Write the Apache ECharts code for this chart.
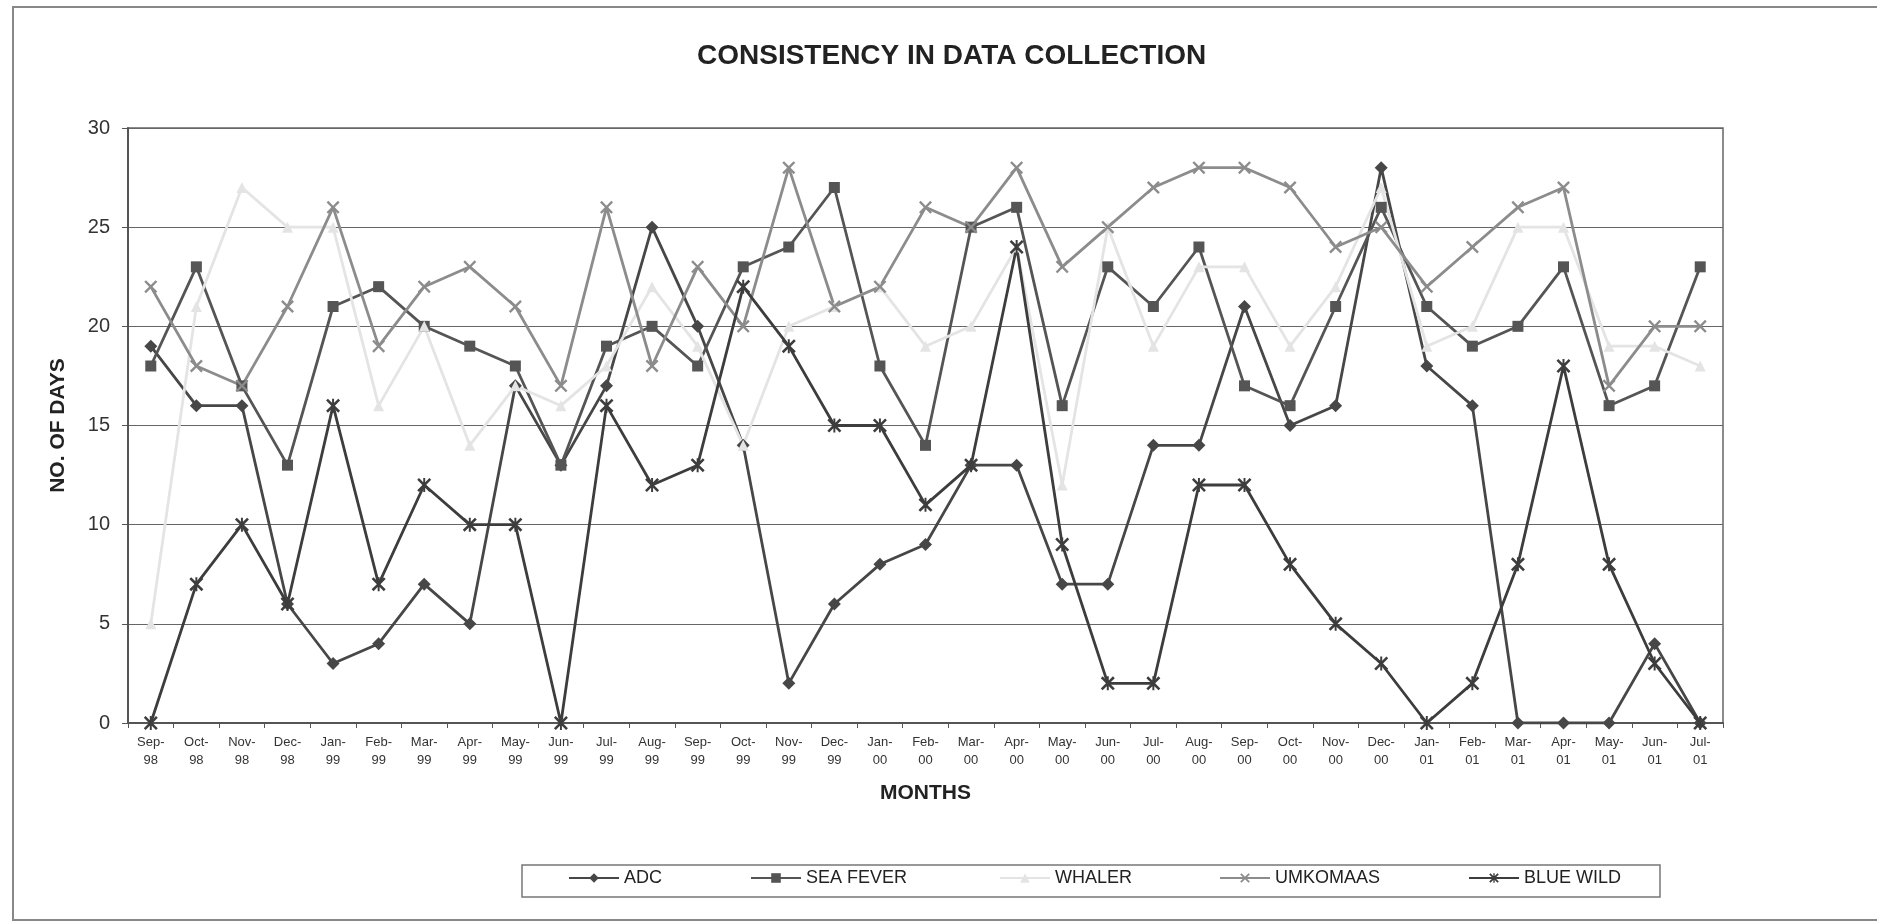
<!DOCTYPE html>
<html>
<head>
<meta charset="utf-8">
<script src="https://cdn.jsdelivr.net/npm/echarts@6/dist/echarts.min.js"></script>
<style>
html,body{margin:0;padding:0;background:#fff;}
#chart{width:1877px;height:922px;}
</style>
</head>
<body>
<div id="chart"></div>
<script>
const months = ['Sep-\n98','Oct-\n98','Nov-\n98','Dec-\n98','Jan-\n99','Feb-\n99','Mar-\n99','Apr-\n99','May-\n99','Jun-\n99','Jul-\n99','Aug-\n99','Sep-\n99','Oct-\n99','Nov-\n99','Dec-\n99','Jan-\n00','Feb-\n00','Mar-\n00','Apr-\n00','May-\n00','Jun-\n00','Jul-\n00','Aug-\n00','Sep-\n00','Oct-\n00','Nov-\n00','Dec-\n00','Jan-\n01','Feb-\n01','Mar-\n01','Apr-\n01','May-\n01','Jun-\n01','Jul-\n01'];
const adc      = [19,16,16,6,3,4,7,5,17,13,17,25,20,14,2,6,8,9,13,13,7,7,14,14,21,15,16,28,18,16,0,0,0,4,0];
const seaFever = [18,23,17,13,21,22,20,19,18,13,19,20,18,23,24,27,18,14,25,26,16,23,21,24,17,16,21,26,21,19,20,23,16,17,23];
const whaler   = [5,21,27,25,25,16,20,14,17,16,18,22,19,14,20,21,22,19,20,24,12,25,19,23,23,19,22,27,19,20,25,25,19,19,18];
const umkomaas = [22,18,17,21,26,19,22,23,21,17,26,18,23,20,28,21,22,26,25,28,23,25,27,28,28,27,24,25,22,24,26,27,17,20,20];
const blueWild = [0,7,10,6,16,7,12,10,10,0,16,12,13,22,19,15,15,11,13,24,9,2,2,12,12,8,5,3,0,2,8,18,8,3,0];
const yTicks = [0,5,10,15,20,25,30];

const xMark = 'path://M0,1.3 L1.3,0 L5,3.7 L8.7,0 L10,1.3 L6.3,5 L10,8.7 L8.7,10 L5,6.3 L1.3,10 L0,8.7 L3.7,5 Z';
const starMark = 'path://M0,1.3 L1.3,0 L5,3.7 L8.7,0 L10,1.3 L6.3,5 L10,8.7 L8.7,10 L5,6.3 L1.3,10 L0,8.7 L3.7,5 Z M4.3,0 L5.7,0 L5.7,10 L4.3,10 Z';

function mk(name, data, color, symbol, size) {
  return {
    name: name, type: 'line', data: data,
    symbol: symbol, symbolSize: size, showSymbol: true,
    lineStyle: {color: color, width: 2.8},
    itemStyle: {color: color, borderColor: color, borderWidth: 0},
    emphasis: {disabled: true},
    animation: false
  };
}

const chart = echarts.init(document.getElementById('chart'), null, {renderer: 'canvas'});
const font = 'Liberation Sans, Arial, sans-serif';
const legendLefts = [568, 750, 999, 1219, 1468];
const names = ['ADC','SEA FEVER','WHALER','UMKOMAAS','BLUE WILD'];
chart.setOption({
  backgroundColor: '#fff',
  animation: false,
  title: {
    text: 'CONSISTENCY IN DATA COLLECTION',
    left: 692, top: 37,
    textStyle: {fontFamily: font, fontSize: 28, fontWeight: 'bold', color: '#222'}
  },
  graphic: [
    {type: 'rect', shape: {x: 13, y: 7, width: 1870, height: 913}, style: {fill: 'none', stroke: '#888', lineWidth: 2}, silent: true},
    {type: 'rect', shape: {x: 522, y: 865, width: 1138, height: 32}, style: {fill: 'none', stroke: '#777', lineWidth: 1.5}, silent: true}
  ],
  legend: names.map((n, i) => ({
    data: [n], left: legendLefts[i], top: 869, padding: 0,
    itemWidth: 50, itemHeight: 12, itemGap: 0,
    textStyle: {fontFamily: font, fontSize: 18, color: '#222'},
    selectedMode: false
  })),
  grid: {left: 128, right: 154, top: 128, bottom: 199, show: true, borderColor: '#666', borderWidth: 1.5},
  xAxis: {
    type: 'category', data: months, boundaryGap: true,
    name: 'MONTHS', nameLocation: 'middle', nameGap: 60,
    nameTextStyle: {fontFamily: font, fontSize: 21, fontWeight: 'bold', color: '#222'},
    axisLine: {lineStyle: {color: '#555', width: 2}},
    axisTick: {show: true, alignWithLabel: false, length: 5, lineStyle: {color: '#555'}},
    axisLabel: {interval: 0, fontFamily: font, fontSize: 13, color: '#333', lineHeight: 18, margin: 10},
    splitLine: {show: false}
  },
  yAxis: {
    type: 'value', min: 0, max: 30, interval: 5,
    name: 'NO. OF DAYS', nameLocation: 'middle', nameGap: 59, nameRotate: 90,
    nameTextStyle: {fontFamily: font, fontSize: 21, fontWeight: 'bold', color: '#222'},
    axisLine: {show: true, lineStyle: {color: '#555', width: 2}},
    axisTick: {show: true, length: 6, lineStyle: {color: '#555'}},
    axisLabel: {fontFamily: font, fontSize: 20, color: '#333', margin: 18,
      formatter: v => yTicks.includes(v) ? String(v) : ''},
    splitLine: {show: true, lineStyle: {color: '#666', width: 1.2}}
  },
  series: [
    mk('ADC', adc, '#474747', 'diamond', 13),
    mk('SEA FEVER', seaFever, '#555555', 'rect', 11),
    mk('WHALER', whaler, '#e4e4e4', 'triangle', 11),
    mk('UMKOMAAS', umkomaas, '#8c8c8c', xMark, 13),
    mk('BLUE WILD', blueWild, '#3d3d3d', starMark, 14)
  ]
});
</script>
</body>
</html>
